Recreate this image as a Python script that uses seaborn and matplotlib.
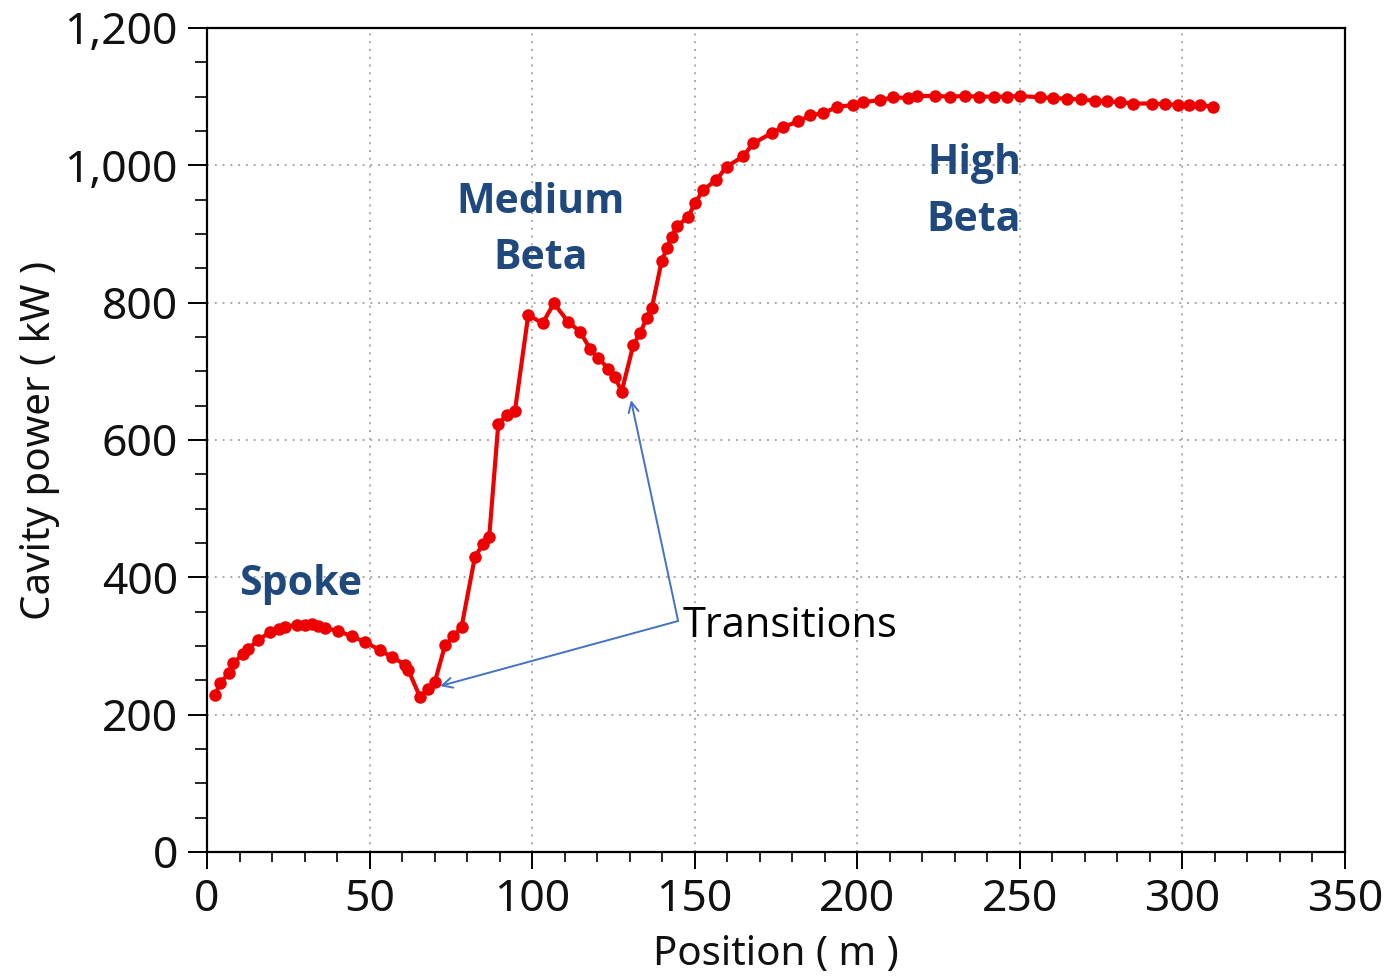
import matplotlib
matplotlib.use("Agg")
import matplotlib.pyplot as plt
from matplotlib.ticker import MultipleLocator, FuncFormatter
import seaborn as sns
import pandas as pd

position_m = [2.5, 4, 6.9, 8.1, 11.2, 12.7, 15.8, 19.4, 22, 24, 27.6, 30, 32.2, 34, 36.3,
              40.4, 44.5, 48.6, 53.2, 56.8, 60.9, 61.9, 65.5, 68.1, 70.1, 73.2, 75.8, 78.3,
              82.4, 85, 86.8, 89.6, 92.2, 94.7, 98.8, 103.2, 106.7, 111.1, 114.7, 117.8,
              120.4, 123.4, 125.5, 127.5, 131.1, 133.2, 135.2, 136.8, 139.8, 141.4, 142.9,
              144.5, 148, 150.1, 152.6, 156.7, 159.8, 164.9, 168, 173.7, 177.3, 181.9, 185.5,
              189.6, 193.7, 198.8, 201.8, 207, 211.1, 215.7, 218.3, 223.9, 228.5, 233.1,
              237.5, 241.9, 246, 250, 256.2, 260.3, 264.4, 268.7, 273.1, 276.9, 280.8,
              284.9, 290.5, 294.6, 298.7, 302, 305.4, 309.5]
power_kw = [228, 246, 261, 275, 289, 296, 309, 320, 325, 328, 331, 331, 332, 329, 326,
            322, 314, 306, 294, 284, 273, 265, 226, 238, 248, 301, 314, 328,
            430, 449, 459, 624, 636, 642, 782, 770, 799, 772, 758, 733,
            719, 704, 692, 670, 738, 756, 777, 792, 860, 879, 896,
            911, 925, 945, 964, 979, 998, 1013, 1032, 1047, 1056, 1064, 1073,
            1076, 1085, 1088, 1092, 1095, 1099, 1098, 1101, 1101, 1100, 1101,
            1100, 1100, 1100, 1101, 1099, 1098, 1097, 1096, 1094, 1093, 1092,
            1090, 1090, 1089, 1088, 1088, 1088, 1085]

x_ticks = [0, 50, 100, 150, 200, 250, 300, 350]
y_ticks = [0, 200, 400, 600, 800, 1000, 1200]
region_labels = ["Spoke", "Medium\nBeta", "High\nBeta"]
region_label_pos = [(28.9, 389), (102.7, 905), (235.9, 961)]
transition_label = "Transitions"
transition_points = [(71.7, 241.7), (130.4, 658.0)]
transition_vertex = (144.9, 336.4)

sns.set_theme(style="white")
plt.rcParams['font.family'] = ['Noto Sans', 'DejaVu Sans']

df = pd.DataFrame({"Position": position_m, "Power": power_kw})

fig = plt.figure(figsize=(13.88, 9.76), dpi=100)
ax = fig.add_axes([207/1388, 1 - 852/976, (1345-207)/1388, (852-28)/976])

sns.lineplot(data=df, x="Position", y="Power", ax=ax, color="#ee0000", lw=3.0,
             marker="o", markersize=9, markeredgewidth=0, estimator=None, sort=False,
             zorder=5)

ax.set_xlim(0, 350)
ax.set_ylim(0, 1200)
ax.set_xticks(x_ticks)
ax.set_yticks(y_ticks)
ax.xaxis.set_minor_locator(MultipleLocator(10))
ax.yaxis.set_minor_locator(MultipleLocator(50))
ax.yaxis.set_major_formatter(FuncFormatter(lambda v, p: f"{v:,.0f}"))

ax.tick_params(axis="y", which="major", direction="out", length=14, width=1.4,
               color="black", labelsize=32, labelcolor="#111111", pad=7, left=True)
ax.tick_params(axis="y", which="minor", direction="out", length=9, width=1.2,
               color="black", left=True)
ax.tick_params(axis="x", which="major", direction="out", length=12.5, width=1.4,
               color="black", labelsize=32, labelcolor="#111111", pad=6.5, bottom=True)
ax.tick_params(axis="x", which="minor", direction="out", length=7, width=1.2,
               color="black", bottom=True)

ax.grid(True, which="major", color="#a8a8a8", linestyle=(0, (1, 3)), linewidth=1.4)
for s in ax.spines.values():
    s.set_visible(True)
    s.set_color("black")
    s.set_linewidth(1.6)

ax.set_xlabel("Position ( m )", fontsize=29, color="#111111", labelpad=9)
ax.set_ylabel("Cavity power ( kW )", fontsize=29, color="#111111", labelpad=3)

for lbl, (lx, ly) in zip(region_labels, region_label_pos):
    ax.text(lx, ly, lbl, ha="center", va="center", fontsize=29.5, fontweight="bold",
            color="#1F497D", family=["Open Sans", "DejaVu Sans"], linespacing=1.5,
            zorder=6)

ax.text(transition_vertex[0] + 1.5, transition_vertex[1] - 7, transition_label,
        ha="left", va="center", fontsize=30, color="black",
        family=["Open Sans", "DejaVu Sans"], zorder=6)
for tx, ty in transition_points:
    ax.annotate("", xy=(tx, ty), xytext=transition_vertex,
                arrowprops=dict(arrowstyle="->", color="#4472C4", lw=1.4,
                                shrinkA=0, shrinkB=0, mutation_scale=18),
                zorder=6)

fig.savefig("out.png", dpi=100, facecolor="white")
